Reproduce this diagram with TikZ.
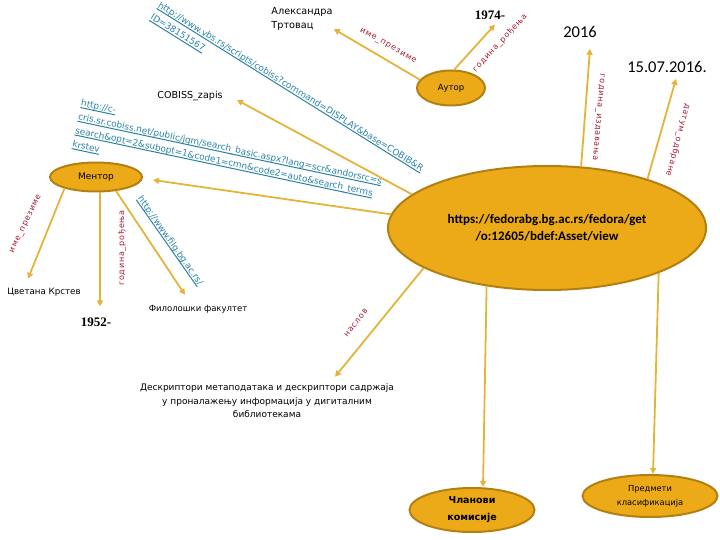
\documentclass[tikz,border=0pt]{standalone}
\usepackage{fontspec}
\setmainfont{DejaVu Sans}
\newfontfamily\lblfont[LetterSpace=10]{DejaVu Sans}
\newfontfamily\calfont{Carlito}
\newfontfamily\serfont{Liberation Serif}
\usetikzlibrary{shapes.geometric,arrows.meta,calc}
\definecolor{fillg}{RGB}{236,170,24}
\definecolor{edgeg}{RGB}{178,128,16}
\definecolor{argold}{RGB}{228,180,58}
\definecolor{lblred}{RGB}{165,25,45}
\definecolor{urlblue}{RGB}{40,130,165}
\newsavebox\urlbox
\newcommand\urlline[1]{\sbox\urlbox{#1}\rlap{\usebox\urlbox}\raisebox{-2.2pt}{\rule{\wd\urlbox}{1pt}}}
\begin{document}
\begin{tikzpicture}[x=1pt,y=-1pt,
  ell/.style={ellipse, draw=edgeg, fill=fillg, line width=2pt, inner sep=0pt},
  plain/.style={inner sep=1pt},
  lbl/.style={text=lblred, font=\lblfont\fontsize{8}{9}\selectfont, inner sep=0pt},
  url/.style={text=urlblue, font=\fontsize{8.9}{14}\selectfont, align=left, inner sep=0pt},
  arr/.style={draw=argold, line width=1.8pt, -{Triangle[length=6pt,width=6pt]}}]
\useasboundingbox (0,0) rectangle (720,540);

% ellipses
\node[ell, minimum width=318pt, minimum height=124pt, font=\calfont\bfseries\fontsize{13}{17}\selectfont, align=center] (obj) at (547,228) {https://fedorabg.bg.ac.rs/fedora/get\\/o:12605/bdef:Asset/view};
\node[ell, minimum width=68pt, minimum height=35pt, font=\fontsize{8.5}{10}\selectfont] (aut) at (451,88) {Аутор};
\node[ell, minimum width=92pt, minimum height=29pt, font=\fontsize{9}{10}\selectfont] (ment) at (96,177) {Ментор};
\node[ell, minimum width=125pt, minimum height=44pt, font=\bfseries\fontsize{9.5}{17}\selectfont, align=center] (clan) at (472,510) {Чланови\\комисије};
\node[ell, minimum width=135pt, minimum height=42pt, font=\fontsize{8.3}{14}\selectfont, align=center] (pred) at (650,496) {Предмети\\класификација};

% plain texts
\node[plain, font=\fontsize{9.7}{14}\selectfont, align=left] (alek) at (302,19) {Александра\\Тртовац};
\node[plain, font=\serfont\bfseries\fontsize{13}{14}\selectfont] (y1974) at (490,15) {1974-};
\node[plain, font=\calfont\fontsize{16.5}{18}\selectfont] (t2016) at (580,32) {2016};
\node[plain, font=\calfont\fontsize{16.5}{18}\selectfont] (tdate) at (667,67) {15.07.2016.};
\node[plain, font=\fontsize{9.6}{11}\selectfont] (cobiss) at (190,96) {COBISS\_zapis};
\node[plain, font=\fontsize{8.7}{10}\selectfont] (cvet) at (44,292) {Цветана Крстев};
\node[plain, font=\serfont\bfseries\fontsize{13}{14}\selectfont] (y1952) at (96,322) {1952-};
\node[plain, font=\fontsize{8.5}{10}\selectfont] (fil) at (198,309) {Филолошки факултет};
\node[plain, font=\fontsize{9}{13.5}\selectfont, align=center] (desc) at (267,401) {Дескриптори метаподатака и дескриптори садржаја\\у проналажењу информација у дигиталним\\библиотекама};

% connectors
\draw[arr] (aut.165) -- ([yshift=-10pt]alek.east);
\draw[arr] (aut.80) -- ([xshift=5pt,yshift=-4pt]y1974.south);
\draw[arr] (obj.61) -- ([xshift=10pt,yshift=-10pt]t2016.south);
\draw[arr] (obj.26) -- ([xshift=9pt,yshift=-5pt]tdate.south);
\draw[arr] (obj.166) -- ([xshift=13pt,yshift=-4pt]cobiss.east);
\draw[arr] (obj.175) -- ([xshift=10pt,yshift=-3pt]ment.east);
\draw[arr] (ment.-160) -- ([xshift=-16pt,yshift=8pt]cvet.north);
\draw[arr] ([xshift=4pt]ment.south) -- ([xshift=4pt,yshift=10pt]y1952.north);
\draw[arr] (ment.-35) -- ([xshift=-13pt,yshift=9pt]fil.north);
\draw[arr] (obj.-162) -- ([xshift=68pt,yshift=6pt]desc.north);
\draw[arr] (obj.-136) -- ([xshift=11pt]clan.north);
\draw[arr] (obj.-22) -- ([xshift=3pt]pred.north);

% labels
\node[lbl, rotate=-30] (l1) at (388,46) {име\_презиме};
\node[lbl, rotate=47] (l2) at (500,43) {година\_рођења};
\node[lbl, rotate=-95] (l3) at (598,117) {година\_издавања};
\node[lbl, rotate=-105] (l4) at (678,140) {датум\_одбране};
\node[lbl, rotate=64] (l5) at (26,224) {име\_презиме};
\node[lbl, rotate=90] (l6) at (122,248) {година\_рођења};
\node[lbl, rotate=52] (l7) at (356,323) {наслов};

% url labels
\node[url, rotate=-32, anchor=north west] (u1) at (161,1) {\urlline{http://www.vbs.rs/scripts/cobiss?command=DISPLAY\&base=COBIB\&R}\\\urlline{ID=38151567}};
\node[url, rotate=-12, anchor=north west] (u2) at (82,99) {\urlline{http://c-}\\\urlline{cris.sr.cobiss.net/public/jqm/search\_basic.aspx?lang=scr\&andorsrc=s}\\\urlline{search\&opt=2\&subopt=1\&code1=cmn\&code2=auto\&search\_terms}\\\urlline{krstev}};
\node[url, rotate=-55] (u3) at (170,241) {\urlline{http://www.filg.bg.ac.rs/}};
\end{tikzpicture}
\end{document}
